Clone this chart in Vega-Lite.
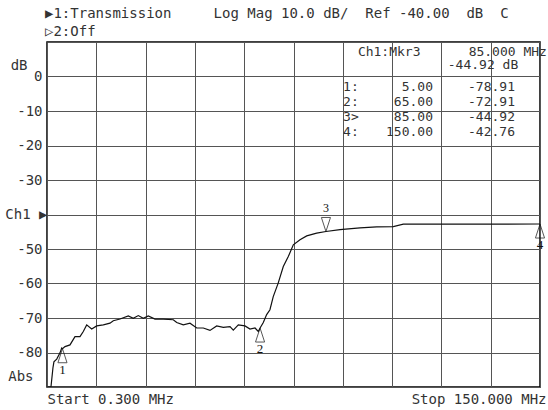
{
  "$schema": "https://vega.github.io/schema/vega-lite/v6.json",
  "width": 493,
  "height": 345,
  "autosize": {"type": "none"},
  "padding": {"left": 47, "top": 42, "right": 8, "bottom": 23},
  "background": "white",
  "title": {
    "text": "▶1:Transmission\u00a0\u00a0\u00a0\u00a0\u00a0Log Mag 10.0 dB/\u00a0\u00a0Ref -40.00\u00a0\u00a0dB\u00a0\u00a0C",
    "subtitle": "▷2:Off",
    "anchor": "start",
    "frame": "group",
    "dx": -2,
    "offset": 3,
    "font": "DejaVu Sans Mono",
    "fontSize": 14,
    "fontWeight": "normal",
    "color": "#333",
    "subtitleFont": "DejaVu Sans Mono",
    "subtitleFontSize": 14,
    "subtitleColor": "#333",
    "subtitlePadding": 4
  },
  "config": {
    "view": {"stroke": "#000", "strokeWidth": 1.5},
    "locale": {"number": {"decimal": ".", "thousands": ",", "grouping": [3], "currency": ["$", ""], "minus": "-"}},
    "text": {"font": "DejaVu Sans Mono", "fontSize": 13, "color": "#333"}
  },
  "datasets": {
    "trace": [
      {"f": 0.3, "db": -90}, {"f": 1.5, "db": -90}, {"f": 2.1, "db": -84.5}, {"f": 2.4, "db": -82.7},
      {"f": 3.25, "db": -81.9}, {"f": 4.25, "db": -80.1}, {"f": 4.76, "db": -78.7}, {"f": 5.0, "db": -78.9},
      {"f": 5.77, "db": -78.3}, {"f": 7.28, "db": -77.8}, {"f": 8.8, "db": -75.4}, {"f": 10.32, "db": -75.4},
      {"f": 11.32, "db": -73.9}, {"f": 12.35, "db": -72.0}, {"f": 13.87, "db": -73.2}, {"f": 15.39, "db": -72.3},
      {"f": 17.4, "db": -72.0}, {"f": 19.43, "db": -71.5}, {"f": 20.43, "db": -70.8}, {"f": 22.47, "db": -70.3},
      {"f": 24.99, "db": -69.4}, {"f": 26.5, "db": -70.1}, {"f": 28.02, "db": -69.3}, {"f": 29.54, "db": -70.1},
      {"f": 31.06, "db": -69.4}, {"f": 33.09, "db": -70.3}, {"f": 35.61, "db": -70.3}, {"f": 38.65, "db": -70.5},
      {"f": 39.68, "db": -71.3}, {"f": 41.69, "db": -72.0}, {"f": 43.72, "db": -71.5}, {"f": 45.76, "db": -72.9},
      {"f": 47.76, "db": -72.9}, {"f": 49.79, "db": -73.6}, {"f": 51.83, "db": -72.3}, {"f": 53.83, "db": -72.7},
      {"f": 55.87, "db": -72.5}, {"f": 56.87, "db": -73.5}, {"f": 58.39, "db": -72.0}, {"f": 60.42, "db": -72.3},
      {"f": 61.94, "db": -73.2}, {"f": 63.46, "db": -72.9}, {"f": 64.46, "db": -73.9}, {"f": 65.0, "db": -72.9},
      {"f": 65.98, "db": -71.3}, {"f": 67.0, "db": -69.0}, {"f": 68.0, "db": -67.6}, {"f": 69.0, "db": -63.8},
      {"f": 70.5, "db": -59.9}, {"f": 72.05, "db": -55.1}, {"f": 73.57, "db": -52.2}, {"f": 75.09, "db": -48.8},
      {"f": 77.12, "db": -47.3}, {"f": 79.16, "db": -46.2}, {"f": 82.19, "db": -45.4}, {"f": 85.0, "db": -44.92},
      {"f": 89.27, "db": -44.4}, {"f": 95.34, "db": -43.9}, {"f": 100.4, "db": -43.6}, {"f": 105.45, "db": -43.5},
      {"f": 108.5, "db": -42.8}, {"f": 116.6, "db": -42.8}, {"f": 128.7, "db": -42.8}, {"f": 137.9, "db": -42.8},
      {"f": 150.0, "db": -42.76}
    ],
    "markers": [
      {"m": 1, "tag": "1:", "f": 5, "db": -78.91, "active": false},
      {"m": 2, "tag": "2:", "f": 65, "db": -72.91, "active": false},
      {"m": 3, "tag": "3>", "f": 85, "db": -44.92, "active": true},
      {"m": 4, "tag": "4:", "f": 150, "db": -42.76, "active": false}
    ]
  },
  "resolve": {"scale": {"y": "independent"}},
  "layer": [
    {
      "encoding": {
        "x": {
          "field": "f", "type": "quantitative",
          "scale": {"domain": [0.3, 150], "nice": false, "zero": false},
          "axis": {
            "values": [0.3, 15.27, 30.24, 45.21, 60.18, 75.15, 90.12, 105.09, 120.06, 135.03, 150],
            "grid": true, "gridColor": "#555", "gridWidth": 1,
            "ticks": false, "domain": false, "title": null,
            "labelExpr": "datum.value < 1 ? 'Start 0.300 MHz' : (datum.value > 149 ? 'Stop 150.000 MHz' : '')",
            "labelAlign": {"condition": {"test": "datum.value < 1", "value": "left"}, "value": "right"},
            "labelOffset": {"condition": {"test": "datum.value > 149", "value": 6}, "value": 0},
            "labelPadding": 5, "labelBaseline": "top",
            "labelFont": "DejaVu Sans Mono", "labelFontSize": 14, "labelColor": "#333",
            "labelOverlap": false, "labelBound": false, "labelFlush": false
          }
        },
        "y": {
          "field": "db", "type": "quantitative",
          "scale": {"domain": [-90, 10], "nice": false, "zero": false},
          "axis": {
            "values": [10, 0, -10, -20, -30, -40, -50, -60, -70, -80, -90],
            "grid": true, "gridColor": "#555", "gridWidth": 1,
            "ticks": false, "domain": false, "title": null,
            "labelExpr": "datum.value == 10 ? 'dB' : (datum.value == -40 ? 'Ch1 ▶' : (datum.value == -90 ? 'Abs' : '' + datum.value))",
            "labelOffset": {"condition": [{"test": "datum.value == 10", "value": 23}, {"test": "datum.value == -90", "value": -11}], "value": 0},
            "labelPadding": {"condition": [{"test": "datum.value == -40", "value": 0}, {"test": "datum.value == 10", "value": 20}, {"test": "datum.value == -90", "value": 14}], "value": 5},
            "labelFont": "DejaVu Sans Mono", "labelFontSize": 14, "labelColor": "#333",
            "labelOverlap": false, "labelBound": false, "labelFlush": false
          }
        }
      },
      "layer": [
        {
          "data": {"name": "trace"},
          "mark": {"type": "line", "color": "#111", "strokeWidth": 1.2, "clip": true}
        },
        {
          "data": {"name": "markers"},
          "transform": [{"filter": "!datum.active"}],
          "mark": {"type": "point", "shape": "M0,-1L-0.65,1L0.65,1Z", "size": 196, "filled": false, "stroke": "#111", "strokeWidth": 1, "yOffset": 7}
        },
        {
          "data": {"name": "markers"},
          "transform": [{"filter": "datum.active"}],
          "mark": {"type": "point", "shape": "M0,1L-0.65,-1L0.65,-1Z", "size": 196, "filled": false, "stroke": "#111", "strokeWidth": 1, "yOffset": -7}
        },
        {
          "data": {"name": "markers"},
          "transform": [{"filter": "!datum.active"}],
          "mark": {"type": "text", "font": "Liberation Serif", "fontSize": 13, "color": "#111", "dy": 21},
          "encoding": {"text": {"field": "m", "type": "quantitative"}}
        },
        {
          "data": {"name": "markers"},
          "transform": [{"filter": "datum.active"}],
          "mark": {"type": "text", "font": "Liberation Serif", "fontSize": 12, "color": "#111", "dy": -23},
          "encoding": {"text": {"field": "m", "type": "quantitative"}}
        },
        {
          "data": {"name": "markers"},
          "transform": [{"filter": "datum.active"}],
          "mark": {"type": "text", "align": "left", "text": "Ch1:Mkr3"},
          "encoding": {"x": {"datum": 94.7}, "y": {"datum": 7.24}}
        },
        {
          "data": {"name": "markers"},
          "transform": [{"filter": "datum.active"}],
          "mark": {"type": "text", "align": "right", "text": "85.000 MHz"},
          "encoding": {"x": {"datum": 152.1}, "y": {"datum": 7.24}}
        },
        {
          "data": {"name": "markers"},
          "transform": [{"filter": "datum.active"}],
          "mark": {"type": "text", "align": "left", "text": "-44.92 dB"},
          "encoding": {"x": {"datum": 122.0}, "y": {"datum": 3.47}}
        }
      ]
    },
    {
      "data": {"name": "markers"},
      "encoding": {
        "y": {"field": "m", "type": "quantitative", "scale": {"domain": [-2, 21], "reverse": true, "nice": false, "zero": false}, "axis": null}
      },
      "layer": [
        {
          "mark": {"type": "text", "align": "left"},
          "encoding": {"x": {"datum": 90.2}, "text": {"field": "tag"}}
        },
        {
          "mark": {"type": "text", "align": "right"},
          "encoding": {"x": {"datum": 117.5}, "text": {"field": "f", "type": "quantitative", "format": ".2f"}}
        },
        {
          "mark": {"type": "text", "align": "right"},
          "encoding": {"x": {"datum": 142.4}, "text": {"field": "db", "type": "quantitative", "format": ".2f"}}
        }
      ]
    }
  ]
}
